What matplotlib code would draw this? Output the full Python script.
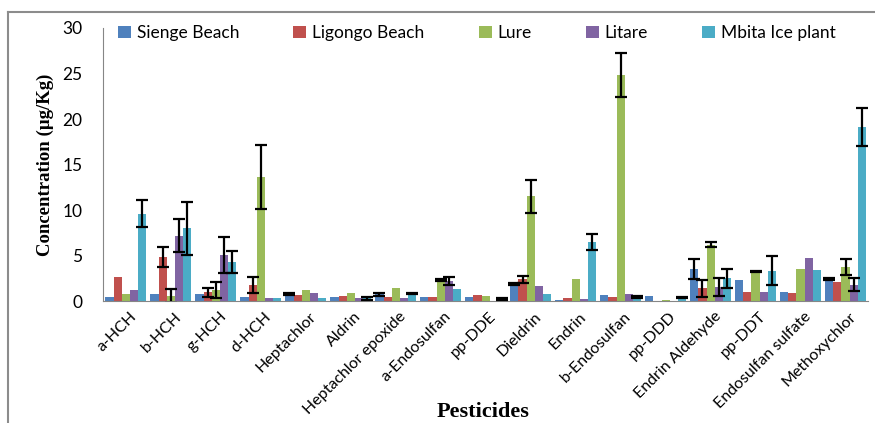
import numpy as np
import matplotlib
matplotlib.use("Agg")
import matplotlib.pyplot as plt
from matplotlib.lines import Line2D

pesticides = ["a-HCH", "b-HCH", "g-HCH", "d-HCH", "Heptachlor", "Aldrin",
              "Heptachlor epoxide", "a-Endosulfan", "pp-DDE", "Dieldrin", "Endrin",
              "b-Endosulfan", "pp-DDD", "Endrin Aldehyde", "pp-DDT",
              "Endosulfan sulfate", "Methoxychlor"]
sites = ["Sienge Beach", "Ligongo Beach", "Lure", "Litare", "Mbita Ice plant"]
colors = ["#4F81BD", "#C0504D", "#9BBB59", "#8064A2", "#4BACC6"]

# mean concentrations (ug/Kg) per site
sienge = [0.45, 0.8, 0.8, 0.45, 0.75, 0.45, 0.75, 0.45, 0.5, 1.85, 0.1, 0.65, 0.6, 3.5, 2.3, 1.05, 2.4]
ligongo = [2.7, 4.9, 1.0, 1.8, 0.65, 0.55, 0.5, 0.45, 0.7, 2.4, 0.3, 0.45, 0.0, 1.4, 1.05, 0.85, 2.1]
lure = [0.8, 0.6, 1.2, 13.6, 1.2, 0.9, 1.45, 2.3, 0.55, 11.5, 2.45, 24.8, 0.1, 6.2, 3.25, 3.5, 3.75]
litare = [1.2, 7.2, 5.1, 0.3, 0.9, 0.4, 0.4, 2.2, 0.05, 1.65, 0.2, 0.75, 0.0, 1.55, 1.0, 4.7, 1.8]
mbita = [9.6, 8.0, 4.3, 0.3, 0.4, 0.3, 0.85, 1.3, 0.25, 0.75, 6.5, 0.45, 0.4, 2.5, 3.35, 3.45, 19.1]

# standard errors (nan = not shown)
n = np.nan
sienge_err = [n, n, n, n, 0.1, n, 0.15, n, n, 0.1, n, n, n, 1.1, n, n, 0.1]
ligongo_err = [n, 1.1, 0.5, 0.9, n, n, n, n, n, 0.35, n, n, n, 0.9, n, n, n]
lure_err = [n, 0.75, 0.9, 3.5, n, n, n, 0.1, n, 1.8, n, 2.4, n, 0.3, 0.1, n, 0.85]
litare_err = [n, 1.85, 2.0, n, n, n, n, 0.45, n, n, n, n, n, 1.0, n, n, 0.7]
mbita_err = [1.5, 2.9, 1.2, n, n, 0.15, 0.1, n, 0.15, n, 0.9, 0.1, 0.1, 1.0, 1.6, n, 2.1]

values = [sienge, ligongo, lure, litare, mbita]
errors = [sienge_err, ligongo_err, lure_err, litare_err, mbita_err]

fig = plt.figure(figsize=(8.75, 4.23), dpi=100)
ax = fig.add_axes([0.118, 0.288, 0.874, 0.646])

x = np.arange(len(pesticides))
w = 0.18
for i in range(len(sites)):
    pos = x + (i - 2) * w
    ax.bar(pos, values[i], width=w, color=colors[i], label=sites[i], zorder=2)
    ax.errorbar(pos, values[i], yerr=np.array(errors[i]), fmt="none",
                ecolor="black", elinewidth=1.6, capsize=4, capthick=1.6, zorder=3)

ax.set_xlim(-0.5, len(pesticides) - 0.5)
ax.set_ylim(0, 30)
ax.set_yticks(range(0, 31, 5))
ax.set_xticks(x + 0.08)
ax.set_xticklabels(pesticides, rotation=45, ha="right", rotation_mode="anchor",
                   fontsize=11.5, family="Lato")
for lab in ax.get_yticklabels():
    lab.set_family("Lato")
ax.tick_params(axis="y", length=0, pad=15, labelsize=12.5)
ax.tick_params(axis="x", length=0, pad=6)
for s in ["top", "right"]:
    ax.spines[s].set_visible(False)
for s in ["left", "bottom"]:
    ax.spines[s].set_color("#868686")

ax.set_ylabel("Concentration (\u00b5g/Kg)", family="Liberation Serif",
              fontweight="bold", fontsize=13.5, labelpad=6)
fig.text(0.552, 0.027, "Pesticides", family="Liberation Serif",
         fontweight="bold", fontsize=16, ha="center", va="center")

fig.legend(loc="center", bbox_to_anchor=(0.545, 0.922), ncol=5, frameon=False,
           prop={"family": "Lato", "size": 12.5}, handlelength=0.75, handleheight=0.75,
           handletextpad=0.35, columnspacing=3.1)

# outer chart border
fig.add_artist(Line2D([0.009, 0.009], [0.0, 0.972], color="#8c8c8c", lw=1.5))
fig.add_artist(Line2D([0.009, 1.0], [0.972, 0.972], color="#8c8c8c", lw=1.5))

fig.savefig("out.png", dpi=100)
